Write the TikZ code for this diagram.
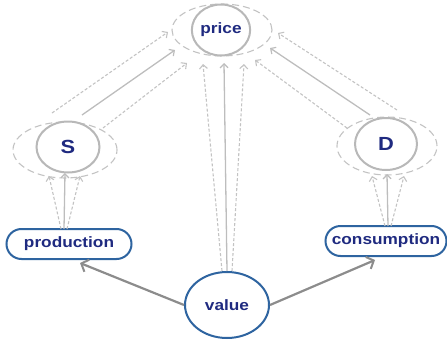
\documentclass[tikz,border=0pt]{standalone}
\usepackage{fontspec}
\newfontfamily\lbl{Liberation Sans}[FakeStretch=1.15]
\usetikzlibrary{shapes.geometric,shapes.misc,arrows.meta}
\definecolor{navy}{HTML}{1F2A80}
\definecolor{bordblue}{HTML}{2E64A0}
\definecolor{cgray}{HTML}{B8B8B8}
\definecolor{lgray}{HTML}{BDBDBD}
\definecolor{dgray}{HTML}{C3C3C3}
\definecolor{vgray}{HTML}{8C8C8C}
\tikzset{
  txt/.style={font=\lbl\bfseries\fontsize{15}{15}\selectfont, text=navy},
  bigtxt/.style={font=\lbl\bfseries\fontsize{19}{19}\selectfont, text=navy},
  gcirc/.style={ellipse, draw=cgray, line width=2pt, fill=white, inner sep=0pt},
  dell/.style={ellipse, draw=dgray, line width=1.1pt, dash pattern=on 7pt off 4pt, inner sep=0pt},
  pill/.style={rounded rectangle, draw=bordblue, line width=2pt, fill=white, inner sep=0pt},
  solidarr/.style={draw=lgray, line width=1.3pt, -{Straight Barb[length=4pt,width=8pt,line width=1.2pt]}},
  dasharr/.style={draw=dgray, line width=1.1pt, dash pattern=on 3pt off 2pt, -{Straight Barb[length=4pt,width=8pt,line width=1.1pt]}},
  valarr/.style={draw=vgray, line width=2.2pt, -{Straight Barb[length=6pt,width=13pt,line width=2pt]}}
}
\begin{document}
\begin{tikzpicture}[x=1pt,y=-1pt]
\useasboundingbox (0,0) rectangle (447,340);
% dashed outer ellipses
\node[dell, minimum width=100pt, minimum height=52pt] (Pd) at (222,30) {};
\node[dell, minimum width=104pt, minimum height=56pt] (Sd) at (65,150) {};
\node[dell, minimum width=100pt, minimum height=58pt] (Dd) at (387,146) {};
% circles
\node[gcirc, txt, minimum width=54pt, minimum height=51pt] (price) at (221,30) {price};
\node[gcirc, bigtxt, minimum width=63pt, minimum height=51pt] (S) at (68,147) {S};
\node[gcirc, bigtxt, minimum width=62pt, minimum height=52pt] (D) at (386,144) {D};
% pills
\node[pill, txt, minimum width=125pt, minimum height=30pt] (prod) at (69,244) {production};
\node[pill, txt, minimum width=121pt, minimum height=30pt] (cons) at (386,241) {consumption};
% value
\node[ellipse, draw=bordblue, line width=2pt, fill=white, txt, minimum width=84pt, minimum height=66pt, inner sep=0pt] (value) at (227,305) {value};
% coordinates
\coordinate (s1a) at (52,113); \coordinate (s1b) at (168,32);
\coordinate (s2a) at (82,115); \coordinate (s2b) at (175,50);
\coordinate (s3a) at (103,128); \coordinate (s3b) at (187,63);
\coordinate (d1a) at (397,110); \coordinate (d1b) at (278,33);
\coordinate (d2a) at (370,115); \coordinate (d2b) at (270,48);
\coordinate (d3a) at (347,128); \coordinate (d3b) at (255,60);
\coordinate (v1a) at (222,271); \coordinate (v1b) at (203,64);
\coordinate (v2a) at (227,271); \coordinate (v2b) at (224,63);
\coordinate (v3a) at (232,271); \coordinate (v3b) at (244,64);
\coordinate (p1a) at (61,229); \coordinate (p1b) at (49,176);
\coordinate (p2a) at (64,229); \coordinate (p2b) at (65,173);
\coordinate (p3a) at (67,229); \coordinate (p3b) at (80,176);
\coordinate (c1a) at (385,226); \coordinate (c1b) at (372,176);
\coordinate (c2a) at (388,226); \coordinate (c2b) at (387,174);
\coordinate (c3a) at (391,226); \coordinate (c3b) at (404,176);
\coordinate (vp) at (80,263); \coordinate (vc) at (375,260);
% arrows
\draw[dasharr] (s1a) -- (s1b);
\draw[solidarr] (s2a) -- (s2b);
\draw[dasharr] (s3a) -- (s3b);
\draw[dasharr] (d1a) -- (d1b);
\draw[solidarr] (d2a) -- (d2b);
\draw[dasharr] (d3a) -- (d3b);
\draw[dasharr] (v1a) -- (v1b);
\draw[solidarr] (v2a) -- (v2b);
\draw[dasharr] (v3a) -- (v3b);
\draw[dasharr] (p1a) -- (p1b);
\draw[solidarr] (p2a) -- (p2b);
\draw[dasharr] (p3a) -- (p3b);
\draw[dasharr] (c1a) -- (c1b);
\draw[solidarr] (c2a) -- (c2b);
\draw[dasharr] (c3a) -- (c3b);
\draw[valarr] (value.west) -- (vp);
\draw[valarr] (value.east) -- (vc);
\end{tikzpicture}
\end{document}
